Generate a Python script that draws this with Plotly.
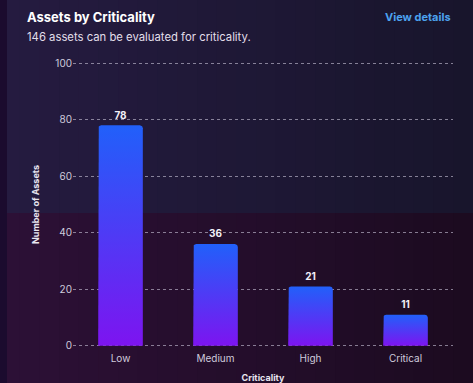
import numpy as np
import plotly.graph_objects as go

# data
categories = ['Low', 'Medium', 'High', 'Critical']
asset_counts = [78, 36, 21, 11]
y_ticks = [0, 20, 40, 60, 80, 100]

W, H = 473, 383
margin = dict(l=73, r=20, t=62, b=36)
plot_w = W - margin['l'] - margin['r']
plot_h = H - margin['t'] - margin['b']
y_lo, y_hi = -0.4, 100.4


def px_x(px):
    return (px - margin['l']) / plot_w


def px_y(py):
    return 1 - (py - margin['t']) / plot_h


def mix(c1, c2, t):
    return 'rgb(%d,%d,%d)' % tuple(round(a + (b - a) * t) for a, b in zip(c1, c2))


fig = go.Figure()

# background: two horizontal bands, each fading to darker on the right
shapes = []
n_strips = 24
bands = [
    (0, 213, (37, 27, 64), (24, 21, 44)),
    (213, H, (44, 16, 54), (28, 11, 32)),
]
for top, bottom, c_left, c_right in bands:
    for k in range(n_strips):
        x0 = k * W / n_strips
        x1 = (k + 1) * W / n_strips + 1
        shapes.append(dict(
            type='rect', xref='paper', yref='paper', layer='below',
            x0=px_x(x0), x1=px_x(x1), y0=px_y(bottom), y1=px_y(top),
            fillcolor=mix(c_left, c_right, k / (n_strips - 1)), line_width=0,
        ))
shapes.append(dict(
    type='rect', xref='paper', yref='paper', layer='below',
    x0=px_x(0), x1=px_x(7), y0=px_y(H), y1=px_y(0),
    fillcolor='#1b0b2e', line_width=0,
))

# bars as gradient-filled rounded rectangles
half_w = 0.235
rx = 3 / (plot_w / 4)
ry = 3 / (plot_h / (y_hi - y_lo))
theta = np.linspace(0, np.pi / 2, 6)
for i, v in enumerate(asset_counts):
    left, right = i - half_w, i + half_w
    xs = [left, left]
    ys = [0, v - ry]
    # top-left corner
    xs += list(left + rx - rx * np.cos(theta))
    ys += list(v - ry + ry * np.sin(theta))
    # top-right corner
    xs += list(right - rx + rx * np.sin(theta))
    ys += list(v - ry + ry * np.cos(theta))
    xs += [right, left]
    ys += [0, 0]
    fig.add_trace(go.Scatter(
        x=xs, y=ys, mode='lines', fill='toself',
        line=dict(width=0, color='rgba(0,0,0,0)'),
        fillgradient=dict(
            type='vertical',
            colorscale=[[0, '#7d14f0'], [1, '#2160fa']],
        ),
        hoverinfo='skip', showlegend=False,
    ))

# value labels; the invisible marker lifts the text a little off the bar
fig.add_trace(go.Scatter(
    x=list(range(len(categories))), y=asset_counts,
    mode='markers+text', text=[str(v) for v in asset_counts],
    marker=dict(size=5, color='rgba(0,0,0,0)'),
    textposition='top center',
    textfont=dict(family='Inter', size=10, color='#f2f0f8', weight='bold'),
    showlegend=False, hoverinfo='skip',
))

fig.update_layout(
    width=W, height=H,
    margin=margin,
    paper_bgcolor='#201838',
    plot_bgcolor='rgba(0,0,0,0)',
    shapes=shapes,
    font=dict(family='Inter', color='#cfcbdc'),
    annotations=[
        dict(text='<b>Assets by Criticality</b>', xref='paper', yref='paper',
             x=px_x(25), y=px_y(17), xanchor='left', yanchor='middle',
             showarrow=False, font=dict(size=13, color='#ffffff')),
        dict(text='146 assets can be evaluated for criticality.', xref='paper', yref='paper',
             x=px_x(25), y=px_y(37), xanchor='left', yanchor='middle',
             showarrow=False, font=dict(size=11.3, color='#e2dfea')),
        dict(text='<b>View details</b>', xref='paper', yref='paper',
             x=px_x(453), y=px_y(17), xanchor='right', yanchor='middle',
             showarrow=False, font=dict(size=11, color='#4ca2ef')),
    ],
)

fig.update_xaxes(
    range=[-0.5, len(categories) - 0.5],
    tickvals=list(range(len(categories))), ticktext=categories,
    showgrid=False, zeroline=False, showline=False, automargin=False,
    ticklabelstandoff=4,
    tickfont=dict(size=10, color='#cfcbdc'),
    title=dict(text='<b>Criticality</b>', font=dict(size=9, color='#e8e5f0'), standoff=12),
)
fig.update_yaxes(
    range=[y_lo, y_hi], tickvals=y_ticks,
    showgrid=True, gridcolor='rgba(205,200,220,0.6)', griddash='dot', gridwidth=1,
    zeroline=False, showline=False, automargin=False,
    tickfont=dict(size=10, color='#cfcbdc'),
    title=dict(text='<b>Number of Assets</b>', font=dict(size=9, color='#e8e5f0'), standoff=14),
)

# drop the default page margin so the figure sits at the window's corner
fig.write_html('out.html', config={'displayModeBar': False},
               post_script="document.body.style.margin='0';")
